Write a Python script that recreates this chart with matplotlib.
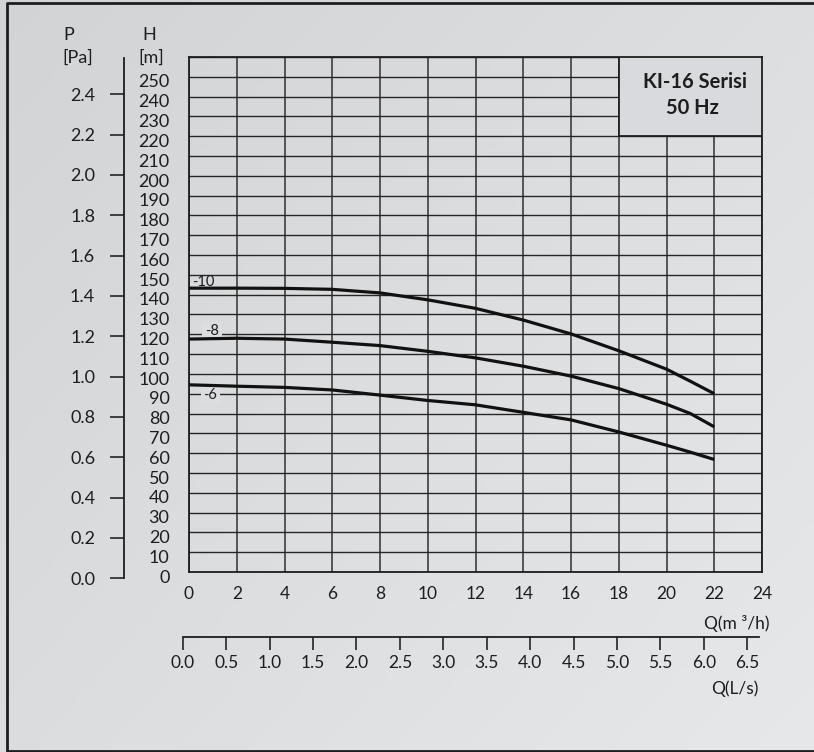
import numpy as np
import matplotlib
matplotlib.use('Agg')
import matplotlib.pyplot as plt
import matplotlib.transforms as mtransforms

plt.rcParams['font.family'] = ['Lato', 'DejaVu Sans']

# debi (m3/h) ve basma yuksekligi (m)
q = [0, 2, 4, 6, 8, 10, 12, 14, 16, 18, 20, 21, 22]
h_10 = [143.3, 143.3, 143.2, 142.7, 140.9, 137.4, 133.1, 127.2, 120.2, 111.7, 102.4, 96.3, 90.0]
h_8 = [117.6, 118.0, 117.6, 116.0, 114.3, 111.4, 108.1, 103.9, 98.9, 92.6, 84.7, 80.0, 73.3]
h_6 = [94.5, 93.8, 93.2, 91.9, 89.3, 86.6, 84.4, 80.6, 76.8, 70.7, 64.0, 60.5, 56.8]
curve_names = ['-10', '-8', '-6']
name_pos = [(0.62, 146.3), (0.95, 121.8), (0.9, 89.6)]
name_masked = [False, True, True]

h_ticks = list(range(0, 251, 10))
p_ticks = [0.0, 0.2, 0.4, 0.6, 0.8, 1.0, 1.2, 1.4, 1.6, 1.8, 2.0, 2.2, 2.4]
q_ticks = list(range(0, 25, 2))
ls_ticks = [0.0, 0.5, 1.0, 1.5, 2.0, 2.5, 3.0, 3.5, 4.0, 4.5, 5.0, 5.5, 6.0, 6.5]

W, H = 814, 752
fig = plt.figure(figsize=(W / 100, H / 100), dpi=100)

# arka plan (hafif gradyan)
bg = fig.add_axes([0, 0, 1, 1], zorder=-10)
gx, gy = np.meshgrid(np.linspace(0, 1, 200), np.linspace(0, 1, 200))
g = 0.55 * gx + 0.45 * gy
c0 = np.array([0.825, 0.829, 0.837])
c1 = np.array([0.905, 0.909, 0.917])
img = c0[None, None, :] + (c1 - c0)[None, None, :] * g[:, :, None]
bg.imshow(img, extent=[0, 1, 0, 1], aspect='auto', origin='upper')
bg.set_xlim(0, 1)
bg.set_ylim(0, 1)
bg.axis('off')
# cerceve: sol, ust, alt
bg.plot([830 / W, 6.5 / W, 6.5 / W, 830 / W], [1 - 2.5 / H, 1 - 2.5 / H, 1 / H, 1 / H],
        color='#1e1e1e', lw=2.0, clip_on=False)

dark = '#1e1e1e'
fs = 13

# ana grafik
ax = fig.add_axes([189 / W, (H - 572) / H, 573 / W, 515 / H])
ax.patch.set_alpha(0)
ax.set_xlim(0, 24)
ax.set_ylim(0, 260)
ax.set_xticks(q_ticks)
ax.set_xticklabels([str(v) for v in q_ticks], fontsize=12.5, color=dark)
ax.set_yticks(list(range(0, 261, 10)))
ax.set_yticklabels([str(v) for v in h_ticks] + [''], fontsize=fs, color=dark)
ax.tick_params(axis='both', length=0)
ax.tick_params(axis='x', pad=10)
ax.tick_params(axis='y', pad=14)
for lab in ax.get_yticklabels():
    lab.set_transform(lab.get_transform() + mtransforms.ScaledTranslation(0, -3 / 72, fig.dpi_scale_trans))
ax.set_axisbelow(True)
ax.grid(axis='y', color='#262626', lw=1.0)
ax.grid(axis='x', color='#555555', lw=1.4)
for s in ax.spines.values():
    s.set_color(dark)
    s.set_linewidth(1.3)

for hv in (h_10, h_8, h_6):
    ax.plot(q, hv, color='#111111', lw=2.3, zorder=4, solid_capstyle='butt')

for name, (xx, yy), masked in zip(curve_names, name_pos, name_masked):
    box = dict(boxstyle='square,pad=0.2', fc='#dcdde0', ec='none') if masked else None
    ax.text(xx, yy, name, fontsize=10.5, color=dark, ha='center', va='center', zorder=2.5,
            bbox=box)

ax.add_patch(plt.Rectangle((18, 220), 6, 40, facecolor='#d9dadd', edgecolor=dark, lw=1.3, zorder=3))
ax.text(21.2, 247.5, 'KI-16 Serisi', fontsize=14.5, fontweight='bold', color=dark,
        ha='center', va='center', zorder=5)
ax.text(21.1, 234.3, '50 Hz', fontsize=14.5, fontweight='bold', color=dark,
        ha='center', va='center', zorder=5)

# basinc ekseni
axp = fig.add_axes([124.3 / W, (H - 578.3) / H, 0.001, 520.3 / H])
axp.patch.set_alpha(0)
axp.set_ylim(0, 2.58)
axp.set_xticks([])
axp.set_yticks(p_ticks)
axp.set_yticklabels(['%.1f' % v for v in p_ticks], fontsize=fs, color=dark)
axp.tick_params(axis='y', direction='out', length=10, width=1.3, color='#333333', pad=11)
for k in ('top', 'right', 'bottom'):
    axp.spines[k].set_visible(False)
axp.spines['left'].set_color(dark)
axp.spines['left'].set_linewidth(1.3)

# L/s ekseni
axq = fig.add_axes([182.7 / W, (H - 637.3) / H, (759 - 182.7) / W, 0.001])
axq.patch.set_alpha(0)
axq.set_xlim(0, 6.635)
axq.set_yticks([])
axq.set_xticks(ls_ticks)
axq.set_xticklabels(['%.1f' % v for v in ls_ticks], fontsize=12.5, color=dark)
axq.tick_params(axis='x', direction='out', length=9, width=1.3, color='#333333', pad=4)
for k in ('top', 'right', 'left'):
    axq.spines[k].set_visible(False)
axq.spines['bottom'].set_color(dark)
axq.spines['bottom'].set_linewidth(1.3)

# eksen basliklari
fig.text(63 / W, 1 - 35 / H, 'P', fontsize=fs, color=dark, ha='left', va='center')
fig.text(62 / W, 1 - 58 / H, '[Pa]', fontsize=fs, color=dark, ha='left', va='center')
fig.text(142 / W, 1 - 35 / H, 'H', fontsize=fs, color=dark, ha='left', va='center')
fig.text(138 / W, 1 - 58 / H, '[m]', fontsize=fs, color=dark, ha='left', va='center')
fig.text(770 / W, 1 - 623 / H, 'Q(m ³/h)', fontsize=12.5, color=dark, ha='right', va='center')
fig.text(758 / W, 1 - 689 / H, 'Q(L/s)', fontsize=12.5, color=dark, ha='right', va='center')

fig.savefig('out.png', dpi=100)
